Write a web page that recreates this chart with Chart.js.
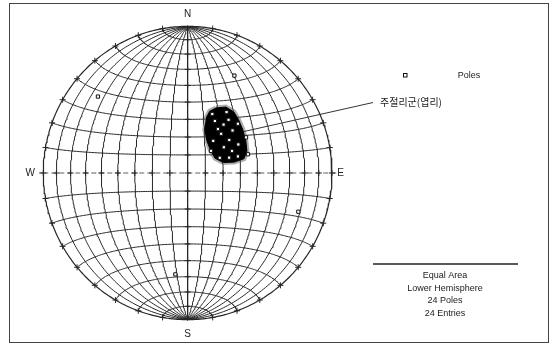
<!DOCTYPE html>
<html>
<head>
<meta charset="utf-8">
<script src="https://cdn.jsdelivr.net/npm/chart.js@4/dist/chart.umd.min.js"></script>
<style>
  html, body { margin: 0; padding: 0; background: #fff; }
  #wrap { width: 553px; height: 347px; position: relative; }
</style>
</head>
<body>
<div id="wrap"><canvas id="net"></canvas></div>
<script>
// Poles to joints, lower hemisphere: trend and plunge in degrees
const poleTrend  = [310, 26, 109, 187,
                    23, 38, 37, 35, 47, 41, 46, 52, 61, 55,
                    65, 70, 72, 73, 59, 28, 64, 39, 33, 47];
const polePlunge = [20, 27, 20, 31,
                    54, 52, 56, 60, 55, 61, 50, 60, 57, 65,
                    70, 65, 60, 54, 51, 57, 62, 67, 49, 72];

// Outline of the dense pole cloud (trend / plunge, degrees)
const cloudTrend  = [24, 30.5, 37.5, 44, 52, 61, 70, 76, 77, 74, 62, 46, 31, 22, 19, 20];
const cloudPlunge = [49.8, 46.7, 46.4, 48, 50, 52, 54, 57, 63, 69, 72.5, 72, 69, 64, 57, 53];

// Net spacing in degrees
const gridStep = 10;

const compassLabels = ['N', 'E', 'S', 'W'];
const clusterLabel = '주절리군(엽리)';
const legendLabel = 'Poles';
const infoLines = ['Equal Area', 'Lower Hemisphere', '24 Poles', '24 Entries'];

const D = Math.PI / 180;

// Lambert equal-area projection of a lower-hemisphere line, primitive radius = 1
function project(trend, plunge) {
  const r = Math.SQRT2 * Math.sin((90 - plunge) / 2 * D);
  return { x: r * Math.sin(trend * D), y: r * Math.cos(trend * D) };
}

// Point of the equatorial Schmidt net: lat along the N-S axis, lon across
function netPoint(lat, lon) {
  const c = Math.cos(lat * D), k = Math.sqrt(1 + c * Math.cos(lon * D));
  return { x: c * Math.sin(lon * D) / k, y: Math.sin(lat * D) / k };
}

const lineStyle = { showLine: true, pointRadius: 0, borderColor: '#262626', borderWidth: 1,
                    fill: false, tension: 0, order: 5 };
const datasets = [];

// great circles through N and S
for (let lon = -90 + gridStep; lon < 90; lon += gridStep) {
  const pts = [];
  for (let lat = -90; lat <= 90; lat += 1) pts.push(netPoint(lat, lon));
  datasets.push({ ...lineStyle, data: pts, borderWidth: lon === 0 ? 1.3 : 1 });
}
// small circles about the N-S axis
for (let lat = -90 + gridStep; lat < 90; lat += gridStep) {
  const pts = [];
  for (let lon = -90; lon <= 90; lon += 1) pts.push(netPoint(lat, lon));
  const ds = { ...lineStyle, data: pts };
  if (lat === 0) { ds.borderDash = [5, 3]; ds.borderColor = '#555'; }
  datasets.push(ds);
}
// primitive circle
{
  const pts = [];
  for (let a = 0; a <= 360; a += 1) pts.push({ x: Math.sin(a * D), y: Math.cos(a * D) });
  datasets.push({ ...lineStyle, data: pts, borderWidth: 1.2 });
}
// E-W line extended to the compass letters
datasets.push({ ...lineStyle, data: [{ x: -1.03, y: 0 }, { x: -1, y: 0 }], borderColor: '#555' });
datasets.push({ ...lineStyle, data: [{ x: 1, y: 0 }, { x: 1.03, y: 0 }], borderColor: '#555' });

// tick crosses on the E-W line, N-S line and primitive
{
  const ticks = [];
  for (let v = -90 + gridStep; v < 90; v += gridStep) {
    ticks.push(netPoint(0, v));
    if (v !== 0) ticks.push(netPoint(v, 0));
    ticks.push(netPoint(v, -90));
    ticks.push(netPoint(v, 90));
  }
  datasets.push({ data: ticks, pointStyle: 'cross', pointRadius: 3, borderColor: '#262626',
                  borderWidth: 1, showLine: false, order: 4 });
}

// dense pole cloud: grey fringe and black core
{
  const pts = cloudTrend.map((t, i) => project(t, cloudPlunge[i]));
  pts.push(pts[0]);
  datasets.push({ type: 'line', data: pts, pointRadius: 0, borderColor: 'rgba(90,90,90,0.5)',
                  borderWidth: 5, fill: false, tension: 0, order: 3 });
  datasets.push({ type: 'line', data: pts, pointRadius: 0, borderColor: '#000', borderWidth: 1,
                  backgroundColor: '#000', fill: 'shape', tension: 0, order: 2 });
}

// poles
datasets.push({
  label: legendLabel,
  data: poleTrend.map((t, i) => project(t, polePlunge[i])),
  pointStyle: 'rect', pointRadius: 2.3, backgroundColor: '#fff', borderColor: '#111',
  borderWidth: 1, showLine: false, order: 1
});

// Scale ranges chosen so the unit circle sits at centre (186,173) on the 553x347 canvas
const CX = 186, CY = 173, RX = 147, RY = 151, W = 553, H = 347;

const decorations = {
  id: 'decorations',
  afterDraw(chart) {
    const ctx = chart.ctx, sx = chart.scales.x, sy = chart.scales.y;
    const px = v => sx.getPixelForValue(v), py = v => sy.getPixelForValue(v);
    ctx.save();
    // frame
    ctx.strokeStyle = '#444';
    ctx.lineWidth = 1;
    ctx.strokeRect(9.5, 3.5, 539, 339);

    ctx.fillStyle = '#222';
    ctx.textAlign = 'center';
    ctx.textBaseline = 'middle';
    ctx.font = '10px "Liberation Sans", Arial, sans-serif';
    const pos = { N: [0, 1.085], E: [1.06, 0], S: [0, -1.1], W: [-1.09, 0] };
    compassLabels.forEach(l => ctx.fillText(l, px(pos[l][0]), py(pos[l][1])));

    // leader line and cluster label
    ctx.strokeStyle = '#333';
    ctx.beginPath();
    ctx.moveTo(244, 131.5);
    ctx.lineTo(373, 102.5);
    ctx.stroke();
    ctx.textAlign = 'left';
    ctx.font = '10px "Noto Sans CJK KR", sans-serif';
    ctx.fillText(clusterLabel, 380, 102);

    // legend
    ctx.fillStyle = '#fff';
    ctx.strokeStyle = '#111';
    ctx.fillRect(403, 73, 4, 4);
    ctx.strokeRect(403.5, 73.5, 3.5, 3.5);
    ctx.fillStyle = '#222';
    ctx.font = '9px "Liberation Sans", Arial, sans-serif';
    ctx.textAlign = 'center';
    ctx.fillText(legendLabel, 469, 76);

    // projection info
    ctx.strokeStyle = '#222';
    ctx.lineWidth = 1.3;
    ctx.beginPath();
    ctx.moveTo(373, 264);
    ctx.lineTo(518, 264);
    ctx.stroke();
    infoLines.forEach((t, i) => ctx.fillText(t, 445, 276 + i * 12.5));
    ctx.restore();
  }
};

new Chart(document.getElementById('net'), {
  type: 'scatter',
  data: { datasets },
  options: {
    responsive: true,
    maintainAspectRatio: false,
    animation: false,
    events: [],
    layout: { padding: 0 },
    plugins: { legend: { display: false }, tooltip: { enabled: false } },
    elements: { line: { capBezierPoints: false } },
    scales: {
      x: { type: 'linear', display: false, min: -CX / RX, max: (W - CX) / RX },
      y: { type: 'linear', display: false, min: (CY - H) / RY, max: CY / RY }
    }
  },
  plugins: [decorations]
});
</script>
</body>
</html>
